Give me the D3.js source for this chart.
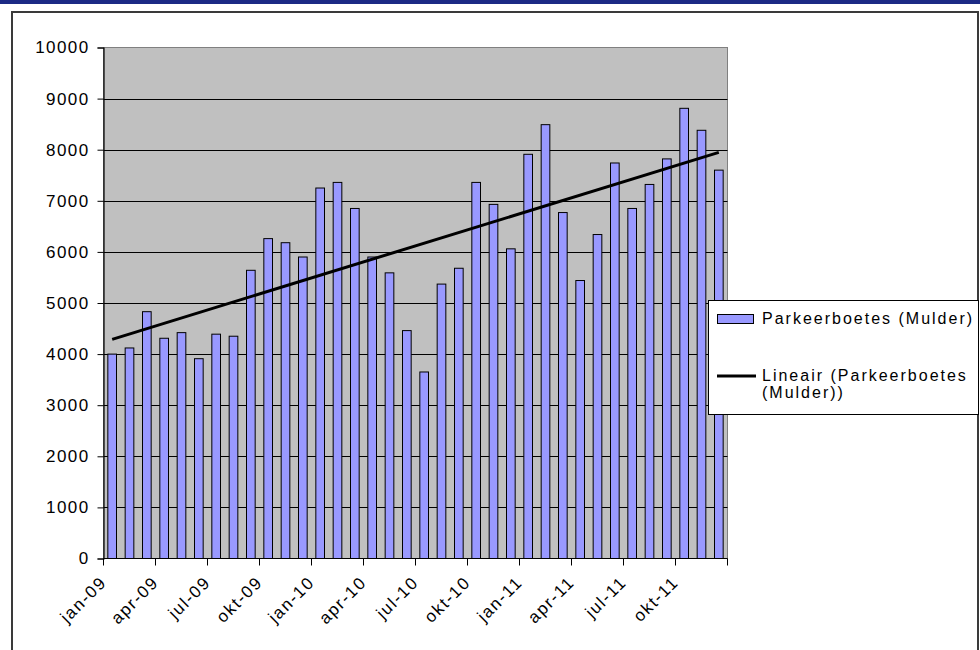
<!DOCTYPE html>
<html>
<head>
<meta charset="utf-8">
<script src="https://cdnjs.cloudflare.com/ajax/libs/d3/7.8.5/d3.min.js"></script>
<style>
body { margin: 0; background: #fff; }
svg text { font-family: Arial, "Liberation Sans", sans-serif; fill: #000; }
</style>
</head>
<body>
<div id="chart"></div>
<script>
var months = ["jan-09","feb-09","mrt-09","apr-09","mei-09","jun-09","jul-09","aug-09","sep-09","okt-09","nov-09","dec-09",
              "jan-10","feb-10","mrt-10","apr-10","mei-10","jun-10","jul-10","aug-10","sep-10","okt-10","nov-10","dec-10",
              "jan-11","feb-11","mrt-11","apr-11","mei-11","jun-11","jul-11","aug-11","sep-11","okt-11","nov-11","dec-11"];
var boetes = [4000, 4120, 4830, 4310, 4420, 3910, 4390, 4350, 5640, 6260, 6180, 5900,
              7250, 7360, 6850, 5900, 5590, 4460, 3650, 5370, 5680, 7360, 6930, 6060,
              7910, 8490, 6770, 5440, 6340, 7740, 6850, 7320, 7820, 8810, 8380, 7600];
var yTicks = [0, 1000, 2000, 3000, 4000, 5000, 6000, 7000, 8000, 9000, 10000];
var seriesName = "Parkeerboetes (Mulder)";
var trendName = ["Lineair (Parkeerboetes", "(Mulder))"];

var width = 980, height = 650;
var svg = d3.select("#chart").append("svg").attr("width", width).attr("height", height);

// top bar + outer frame
svg.append("rect").attr("x", 0).attr("y", 0).attr("width", width).attr("height", 4).attr("fill", "#1c2a85");
svg.append("rect").attr("x", 12).attr("y", 12).attr("width", 966).attr("height", 660)
    .attr("fill", "none").attr("stroke", "#3a3a3a").attr("stroke-width", 2);

var plot = {left: 103.5, right: 727.5, top: 47.5, bottom: 558.5};

var x = d3.scaleBand().domain(months).range([plot.left, plot.right]).paddingInner(0.5).paddingOuter(0.25);
var y = d3.scaleLinear().domain([0, 10000]).range([plot.bottom, plot.top]);

var g = svg.append("g");
g.append("rect")
    .attr("x", plot.left).attr("y", plot.top)
    .attr("width", plot.right - plot.left).attr("height", plot.bottom - plot.top)
    .attr("fill", "#c0c0c0").attr("stroke", "#808080");

// gridlines
g.selectAll(".grid").data(yTicks.filter(function(d) { return d > 0 && d < 10000; }))
    .enter().append("line")
    .attr("x1", plot.left).attr("x2", plot.right)
    .attr("y1", function(d) { return Math.round(y(d)) + 0.5; })
    .attr("y2", function(d) { return Math.round(y(d)) + 0.5; })
    .attr("stroke", "#000").attr("stroke-width", 1.2);

// bars
g.selectAll(".bar").data(boetes).enter().append("rect")
    .attr("x", function(d, i) { return x(months[i]); })
    .attr("y", function(d) { return y(d); })
    .attr("width", x.bandwidth())
    .attr("height", function(d) { return plot.bottom - y(d); })
    .attr("fill", "#9999ff").attr("stroke", "#000").attr("stroke-width", 1);

// linear trend (least squares over month index)
var n = boetes.length;
var mx = d3.mean(boetes, function(d, i) { return i; });
var my = d3.mean(boetes);
var sxy = d3.sum(boetes, function(d, i) { return (i - mx) * (d - my); });
var sxx = d3.sum(boetes, function(d, i) { return (i - mx) * (i - mx); });
var slope = sxy / sxx, icpt = my - slope * mx;
var trend = [0, n - 1].map(function(i) { return [i, icpt + slope * i]; });
g.append("path")
    .datum(trend)
    .attr("d", d3.line()
        .x(function(d) { return x(months[d[0]]) + x.bandwidth() / 2; })
        .y(function(d) { return y(d[1]); }))
    .attr("fill", "none").attr("stroke", "#000").attr("stroke-width", 3);

// y axis
var yAxis = d3.axisLeft(y).tickValues(yTicks).tickFormat(d3.format("d")).tickSize(6).tickPadding(8);
var ya = svg.append("g").attr("transform", "translate(" + plot.left + ",0)").call(yAxis);
ya.select(".domain").attr("stroke", "#000").attr("stroke-width", 1.2);
ya.selectAll("line").attr("stroke", "#000");
ya.selectAll("text").style("font-size", "17px").style("letter-spacing", "1.4px").attr("x", -14);

// x axis: ticks every 3 months at category boundaries
var step = x.step();
var tickIdx = d3.range(0, n + 1, 3);
var xa = svg.append("g");
xa.append("line").attr("x1", plot.left).attr("x2", plot.right)
    .attr("y1", plot.bottom).attr("y2", plot.bottom).attr("stroke", "#000").attr("stroke-width", 1.2);
xa.selectAll(".xt").data(tickIdx).enter().append("line")
    .attr("x1", function(i) { return plot.left + i * step; })
    .attr("x2", function(i) { return plot.left + i * step; })
    .attr("y1", plot.bottom).attr("y2", plot.bottom + 7)
    .attr("stroke", "#000");
xa.selectAll(".xl").data(tickIdx.filter(function(i) { return i < n; })).enter().append("text")
    .attr("transform", function(i) { return "translate(" + (plot.left + i * step + 4) + "," + (plot.bottom + 25) + ") rotate(-45)"; })
    .attr("text-anchor", "end")
    .style("font-size", "17px").style("letter-spacing", "1.6px")
    .text(function(i) { return months[i]; });

// legend
var lg = svg.append("g");
lg.append("rect").attr("x", 708.5).attr("y", 300.5).attr("width", 270).attr("height", 114)
    .attr("fill", "#fff").attr("stroke", "#000");
lg.append("rect").attr("x", 717.5).attr("y", 314.5).attr("width", 36).attr("height", 9)
    .attr("fill", "#9999ff").attr("stroke", "#000");
lg.append("line").attr("x1", 717).attr("x2", 756).attr("y1", 376).attr("y2", 376)
    .attr("stroke", "#000").attr("stroke-width", 3);
lg.append("text").attr("x", 762).attr("y", 324).style("font-size", "16px").style("letter-spacing", "2px").text(seriesName);
lg.append("text").attr("x", 762).attr("y", 381).style("font-size", "16px").style("letter-spacing", "2px").text(trendName[0]);
lg.append("text").attr("x", 762).attr("y", 398).style("font-size", "16px").style("letter-spacing", "2px").text(trendName[1]);
</script>
</body>
</html>
